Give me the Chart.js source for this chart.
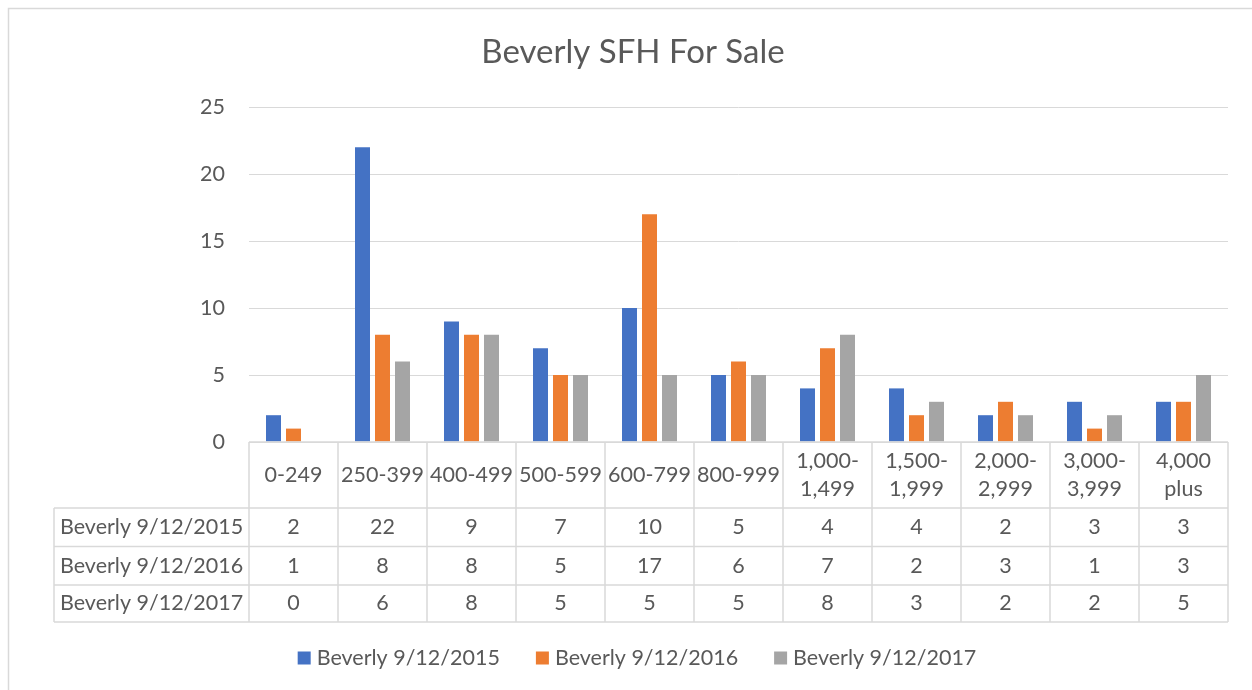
<!DOCTYPE html>
<html>
<head>
<meta charset="utf-8">
<title>Beverly SFH For Sale</title>
<script src="https://cdn.jsdelivr.net/npm/chart.js@4"></script>
<style>
  html, body { margin: 0; padding: 0; background: #fff; }
  #wrap { width: 1252px; height: 690px; }
</style>
</head>
<body>
<div id="wrap"><canvas id="chart" width="1252" height="690"></canvas></div>
<script>
const title = 'Beverly SFH For Sale';
const categories = ['0-249', '250-399', '400-499', '500-599', '600-799', '800-999',
  ['1,000-', '1,499'], ['1,500-', '1,999'], ['2,000-', '2,999'], ['3,000-', '3,999'], ['4,000', 'plus']];
const seriesNames = ['Beverly 9/12/2015', 'Beverly 9/12/2016', 'Beverly 9/12/2017'];
const values2015 = [2, 22, 9, 7, 10, 5, 4, 4, 2, 3, 3];
const values2016 = [1, 8, 8, 5, 17, 6, 7, 2, 3, 1, 3];
const values2017 = [0, 6, 8, 5, 5, 5, 8, 3, 2, 2, 5];
const colors = ['#4472C4', '#ED7D31', '#A5A5A5'];

const FONT = 'Lato, "Open Sans", sans-serif';
const textColor = '#595959';
const lineColor = '#d9d9d9';

// title, data table under the plot and legend, drawn on the same canvas
const tablePlugin = {
  id: 'tablePlugin',
  afterDraw(chart) {
    const ctx = chart.ctx;
    const area = chart.chartArea;
    const x = chart.scales.x;
    const cw = (area.right - area.left) / categories.length;
    const rowTops = [area.bottom, area.bottom + 66, area.bottom + 104.5, area.bottom + 143, area.bottom + 180];
    const firstCol = 54;
    const allSeries = [values2015, values2016, values2017];

    ctx.save();
    // outer chart border
    ctx.strokeStyle = lineColor;
    ctx.lineWidth = 1.5;
    ctx.beginPath();
    ctx.moveTo(8.5, 690);
    ctx.lineTo(8.5, 8.5);
    ctx.lineTo(1252, 8.5);
    ctx.stroke();

    // title
    ctx.fillStyle = textColor;
    ctx.font = '33px ' + FONT;
    ctx.textAlign = 'center';
    ctx.textBaseline = 'middle';
    ctx.fillText(title, 633, 52);

    // table lines
    ctx.strokeStyle = lineColor;
    ctx.lineWidth = 1.5;
    ctx.beginPath();
    ctx.moveTo(area.left, rowTops[0]);
    ctx.lineTo(area.right, rowTops[0]);
    for (let r = 1; r < rowTops.length; r++) {
      ctx.moveTo(firstCol, rowTops[r]);
      ctx.lineTo(area.right, rowTops[r]);
    }
    ctx.moveTo(firstCol, rowTops[1]);
    ctx.lineTo(firstCol, rowTops[4]);
    for (let i = 0; i <= categories.length; i++) {
      const cx = area.left + i * cw;
      ctx.moveTo(cx, rowTops[0]);
      ctx.lineTo(cx, rowTops[4]);
    }
    ctx.stroke();

    // table text
    ctx.font = '21.5px ' + FONT;
    ctx.fillStyle = textColor;
    ctx.textAlign = 'center';
    categories.forEach((cat, i) => {
      const cx = x.getPixelForValue(i);
      const mid = (rowTops[0] + rowTops[1]) / 2;
      if (Array.isArray(cat)) {
        ctx.fillText(cat[0], cx, mid - 14);
        ctx.fillText(cat[1], cx, mid + 14);
      } else {
        ctx.fillText(cat, cx, mid);
      }
      allSeries.forEach((vals, s) => {
        ctx.fillText(String(vals[i]), cx, (rowTops[s + 1] + rowTops[s + 2]) / 2);
      });
    });
    ctx.textAlign = 'left';
    seriesNames.forEach((name, s) => {
      ctx.fillText(name, firstCol + 6, (rowTops[s + 1] + rowTops[s + 2]) / 2);
    });

    // legend
    const box = 13, gap = 6, itemGap = 36;
    const widths = seriesNames.map(n => ctx.measureText(n).width);
    let total = widths.reduce((a, w) => a + box + gap + w, 0) + itemGap * (seriesNames.length - 1);
    let lx = 637 - total / 2;
    const ly = 658;
    seriesNames.forEach((name, s) => {
      ctx.fillStyle = colors[s];
      ctx.fillRect(lx, ly - box / 2, box, box);
      ctx.fillStyle = textColor;
      ctx.fillText(name, lx + box + gap, ly);
      lx += box + gap + widths[s] + itemGap;
    });
    ctx.restore();
  }
};

new Chart(document.getElementById('chart'), {
  type: 'bar',
  data: {
    labels: categories,
    datasets: seriesNames.map((name, s) => ({
      label: name,
      data: [values2015, values2016, values2017][s],
      backgroundColor: colors[s],
      categoryPercentage: 0.674,
      barPercentage: 0.75
    }))
  },
  options: {
    responsive: false,
    animation: false,
    layout: { padding: { left: 0, top: 107, right: 24, bottom: 248 } },
    plugins: {
      legend: { display: false },
      title: { display: false },
      tooltip: { enabled: false }
    },
    scales: {
      x: { display: false },
      y: {
        min: 0,
        max: 25,
        afterFit: (scale) => { scale.width = 249; },
        ticks: {
          stepSize: 5,
          padding: 24,
          color: textColor,
          font: { family: FONT, size: 21.5 }
        },
        grid: { color: lineColor, lineWidth: 1, drawTicks: false },
        border: { display: false }
      }
    }
  },
  plugins: [tablePlugin]
});
</script>
</body>
</html>
